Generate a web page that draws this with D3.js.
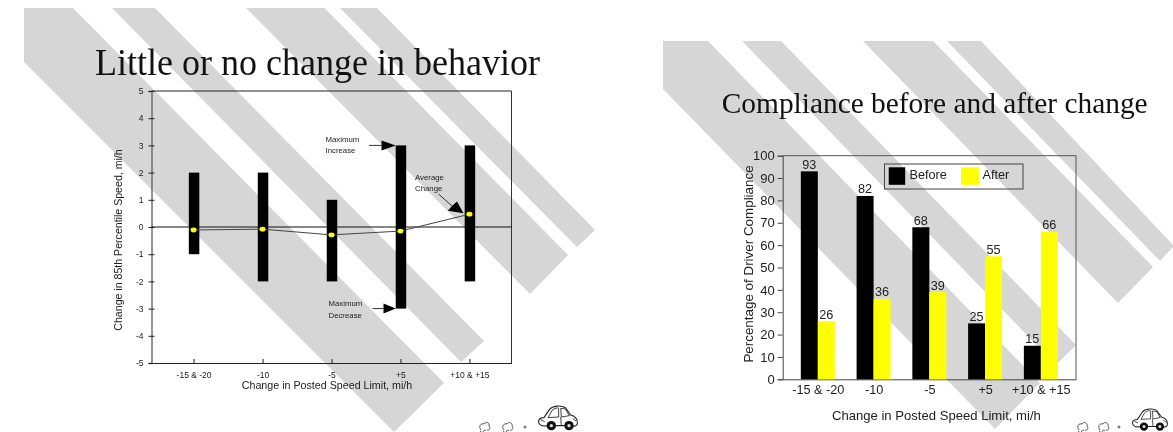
<!DOCTYPE html>
<html>
<head>
<meta charset="utf-8">
<script src="https://cdn.jsdelivr.net/npm/d3@7"></script>
<style>
  html, body { margin: 0; padding: 0; background: #fff; }
  svg { display: block; filter: blur(0.4px); }
  text { font-family: "Liberation Sans", Arial, sans-serif; fill: #222; }
  .title { font-family: "Liberation Serif", "Times New Roman", serif; fill: #111; }
</style>
</head>
<body>
<svg id="slides" width="1173" height="432"></svg>
<script>
// left slide
const speedCategories = ["-15 & -20", "-10", "-5", "+5", "+10 & +15"];
const maxIncrease = [2, 2, 1, 3, 3];
const maxDecrease = [-1, -2, -2, -3, -2];
const averageChange = [-0.11, -0.08, -0.29, -0.15, 0.47];
const speedTicks = [-5, -4, -3, -2, -1, 0, 1, 2, 3, 4, 5];

// right slide
const beforeValues = [93, 82, 68, 25, 15];
const afterValues = [26, 36, 39, 55, 66];
const complianceTicks = [0, 10, 20, 30, 40, 50, 60, 70, 80, 90, 100];

const svg = d3.select("#slides");
const stripeColor = "#d6d6d6";

// the diagonal slide background, every stripe ends on one line across the slide
function drawStripes(stripes) {
    svg.append("g").selectAll("polygon")
        .data(stripes)
        .enter()
        .append("polygon")
        .attr("points", d => d.map(p => p.join(",")).join(" "))
        .attr("fill", stripeColor);
}

drawStripes([
    [[24, 8], [73, 8], [444, 383], [394, 432], [24, 62]],
    [[112, 8], [155, 8], [484, 341], [461, 362]],
    [[246, 8], [324.5, 8], [568, 255], [530, 294]],
    [[340, 8], [377, 8], [595, 230], [577, 247]]
]);
drawStripes([
    [[663, 41], [708, 41], [1040, 383], [995, 429], [663, 89]],
    [[742, 41], [781, 41], [1076, 345], [1056, 365]],
    [[863, 41], [933, 41], [1153, 267], [1118, 303]],
    [[947, 41], [981, 41], [1173, 245], [1173, 247], [1160, 261]]
]);

function drawCar(x0, y0, k) {
    let g = svg.append("g").attr("transform", `translate(${x0},${y0}) scale(${k})`);
    g.append("path")
        .attr("d", "M2,52 C0,42 8,38 18,38 L34,14 C44,2 70,0 82,8 L98,30 C110,32 120,42 118,56 C116,63 108,65 104,62 L30,62 C12,65 4,60 2,52 Z")
        .attr("fill", "#fff").attr("stroke", "#222").attr("stroke-width", 3.4);
    g.append("path")
        .attr("d", "M30,38 L42,16 C50,8 60,8 62,10 L62,36 Z M68,10 L70,36 L94,32 L82,12 Z M68,36 L70,62 M8,44 L20,50 M104,40 L114,48")
        .attr("fill", "none").attr("stroke", "#333").attr("stroke-width", 2.8);
    [40, 93].forEach(cx => {
        g.append("circle").attr("cx", cx).attr("cy", 62).attr("r", 14).attr("fill", "#111");
        g.append("circle").attr("cx", cx).attr("cy", 62).attr("r", 5).attr("fill", "#ddd");
    });
}

function drawPuffs(xs) {
    let g = svg.append("g").attr("fill", "none").attr("stroke", "#444").attr("stroke-width", 0.9);
    [xs[0], xs[1]].forEach(x => {
        g.append("path")
            .attr("transform", `translate(${x},423)`)
            .attr("d", "M0,7 C-3,3 0,0 3,1 C5,-2 9,0 8,3 C10,5 8,8 6,7 M3,10 C1,8 4,6 5,8 M-1,8 C1,10 4,11 3,9");
    });
    g.append("circle").attr("cx", xs[2]).attr("cy", 427).attr("r", 1);
}

function drawSpeedChart() {
    const left = 151.5, right = 511.5, top = 91, bottom = 363;

    const x = d3.scalePoint().domain(speedCategories).range([left, right]).padding(0.61);
    const y = d3.scaleLinear().domain([-5, 5]).range([bottom, top]);
    const barW = 10.5;

    svg.append("text").attr("class", "title")
        .attr("transform", "translate(317.5,75) scale(1,1.05)")
        .attr("text-anchor", "middle").attr("font-size", 36)
        .text("Little or no change in behavior");

    svg.append("line").attr("x1", right).attr("x2", right).attr("y1", top).attr("y2", bottom)
        .attr("stroke", "#333").attr("stroke-width", 1);
    svg.append("line").attr("x1", left).attr("x2", right).attr("y1", top).attr("y2", top)
        .attr("stroke", "#222").attr("stroke-width", 1);

    // plain hyphen on the tick labels, as on the slide
    let yAxis = svg.append("g")
        .attr("transform", `translate(${left},0)`)
        .call(d3.axisLeft(y).tickValues(speedTicks).tickFormat(d => String(d)).tickSize(3).tickPadding(5));
    yAxis.select(".domain").attr("stroke", "#666").attr("stroke-width", 1.4);
    yAxis.selectAll(".tick line").attr("x2", 3).attr("x1", -3).attr("stroke", "#222");
    yAxis.selectAll(".tick text").attr("font-size", 8.5).attr("font-family", null);

    let xAxis = svg.append("g")
        .attr("transform", `translate(0,${bottom})`)
        .call(d3.axisBottom(x).tickSize(0).tickPadding(9));
    xAxis.select(".domain").attr("stroke", "#222");
    xAxis.selectAll(".tick line").attr("y2", -4).attr("stroke", "#222");
    xAxis.selectAll(".tick text").attr("font-size", 8.5).attr("font-family", null);

    svg.append("line").attr("x1", left).attr("x2", right).attr("y1", y(0)).attr("y2", y(0))
        .attr("stroke", "#111").attr("stroke-width", 1);

    svg.append("g").selectAll("rect")
        .data(speedCategories)
        .enter()
        .append("rect")
        .attr("x", d => x(d) - barW / 2 + 0.5)
        .attr("width", barW)
        .attr("y", (d, i) => y(maxIncrease[i]))
        .attr("height", (d, i) => y(maxDecrease[i]) - y(maxIncrease[i]))
        .attr("fill", "#000");

    let avgLine = d3.line().x((d, i) => x(speedCategories[i])).y(d => y(d));
    svg.append("path").attr("d", avgLine(averageChange))
        .attr("fill", "none").attr("stroke", "#444").attr("stroke-width", 1);

    svg.append("g").selectAll("ellipse")
        .data(averageChange)
        .enter()
        .append("ellipse")
        .attr("cx", (d, i) => x(speedCategories[i]))
        .attr("cy", d => y(d))
        .attr("rx", 3).attr("ry", 2.4)
        .attr("fill", "#ffff00");

    // callouts
    let plus5 = x("+5") - barW / 2 + 0.5;
    let note = (tx, ty, s) => svg.append("text").attr("x", tx).attr("y", ty).attr("font-size", 7.8).attr("fill", "#333").text(s);
    let arrow = (x1, y1, pts) => {
        svg.append("line").attr("x1", x1).attr("y1", y1).attr("x2", pts[0][0]).attr("y2", pts[0][1]).attr("stroke", "#333");
        svg.append("polygon").attr("points", pts.map(p => p.join(",")).join(" ")).attr("fill", "#000");
    };
    note(325.5, 142, "Maximum");
    note(325.5, 153, "Increase");
    arrow(369, y(3), [[381.5, y(3)], [381.5, y(3) - 5], [plus5, y(3)], [381.5, y(3) + 5]]);
    note(328.5, 306, "Maximum");
    note(328.5, 318, "Decrease");
    arrow(372.5, y(-3), [[383.5, y(-3)], [383.5, y(-3) - 5], [plus5, y(-3)], [383.5, y(-3) + 5]]);
    note(415, 180, "Average");
    note(415, 191, "Change");
    arrow(438.5, 194, [[452, 206], [457, 201.5], [x("+10 & +15") - 6, y(0.47) - 1], [447.8, 210.7]]);

    svg.append("text")
        .attr("x", 327).attr("y", 389)
        .attr("text-anchor", "middle").attr("font-size", 10.7)
        .text("Change in Posted Speed Limit, mi/h");
    svg.append("text")
        .attr("transform", `translate(121.5,240) rotate(-90)`)
        .attr("text-anchor", "middle").attr("font-size", 10.6)
        .text("Change in 85th Percentile Speed, mi/h");

    drawPuffs([481, 504, 525]);
    drawCar(538, 405, 1 / 3);
}

function drawComplianceChart() {
    const left = 782.7, right = 1076, top = 155.7, bottom = 379.3;

    const x = d3.scalePoint().domain(speedCategories).range([left, right]).padding(0.63);
    const y = d3.scaleLinear().domain([0, 100]).range([bottom, top]);
    const barW = 17;

    svg.append("text").attr("class", "title")
        .attr("x", 934.7).attr("y", 112.5)
        .attr("text-anchor", "middle").attr("font-size", 29.4)
        .text("Compliance before and after change");

    svg.append("path")
        .attr("d", `M${left},${top} H${right} V${bottom}`)
        .attr("fill", "none").attr("stroke", "#555").attr("stroke-width", 1);

    let yAxis = svg.append("g")
        .attr("transform", `translate(${left},0)`)
        .call(d3.axisLeft(y).tickValues(complianceTicks).tickSize(5).tickPadding(3));
    yAxis.select(".domain").attr("stroke", "#444");
    yAxis.selectAll(".tick line").attr("stroke", "#444");
    yAxis.selectAll(".tick text").attr("font-size", 13).attr("font-family", null);

    let xAxis = svg.append("g")
        .attr("transform", `translate(0,${bottom})`)
        .call(d3.axisBottom(x).tickSize(0).tickPadding(6));
    xAxis.select(".domain").attr("stroke", "#444");
    xAxis.selectAll(".tick text").attr("font-size", 12.7).attr("font-family", null);

    let bars = [
        { values: beforeValues, color: "#000", dx: -barW },
        { values: afterValues, color: "#ffff00", dx: 0 }
    ];
    bars.forEach(s => {
        svg.append("g").selectAll("rect")
            .data(s.values)
            .enter()
            .append("rect")
            .attr("x", (d, i) => x(speedCategories[i]) + s.dx)
            .attr("width", barW)
            .attr("y", d => y(d))
            .attr("height", d => y(0) - y(d))
            .attr("fill", s.color);
        svg.append("g").selectAll("text")
            .data(s.values)
            .enter()
            .append("text")
            .attr("x", (d, i) => x(speedCategories[i]) + s.dx + barW / 2)
            .attr("y", d => y(d) - 2.5)
            .attr("text-anchor", "middle")
            .attr("font-size", 12.7)
            .text(d => d);
    });

    // legend
    svg.append("rect").attr("x", 884.5).attr("y", 164).attr("width", 138.5).attr("height", 25)
        .attr("fill", "none").attr("stroke", "#444");
    svg.append("rect").attr("x", 888.7).attr("y", 167.3).attr("width", 16.5).attr("height", 17.5).attr("fill", "#000");
    svg.append("rect").attr("x", 961).attr("y", 167.3).attr("width", 18).attr("height", 17.5).attr("fill", "#ffff00");
    svg.append("text").attr("x", 909.5).attr("y", 179).attr("font-size", 12.7).text("Before");
    svg.append("text").attr("x", 982.5).attr("y", 179).attr("font-size", 12.7).text("After");

    svg.append("text")
        .attr("x", 936.4).attr("y", 420)
        .attr("text-anchor", "middle").attr("font-size", 13.1)
        .text("Change in Posted Speed Limit, mi/h");
    svg.append("text")
        .attr("transform", `translate(752.5,264) rotate(-90)`)
        .attr("text-anchor", "middle").attr("font-size", 13.4)
        .text("Percentage of Driver Compliance");

    drawPuffs([1079, 1100, 1119]);
    drawCar(1132, 408, 0.3);
}

drawSpeedChart();
drawComplianceChart();
</script>
</body>
</html>
